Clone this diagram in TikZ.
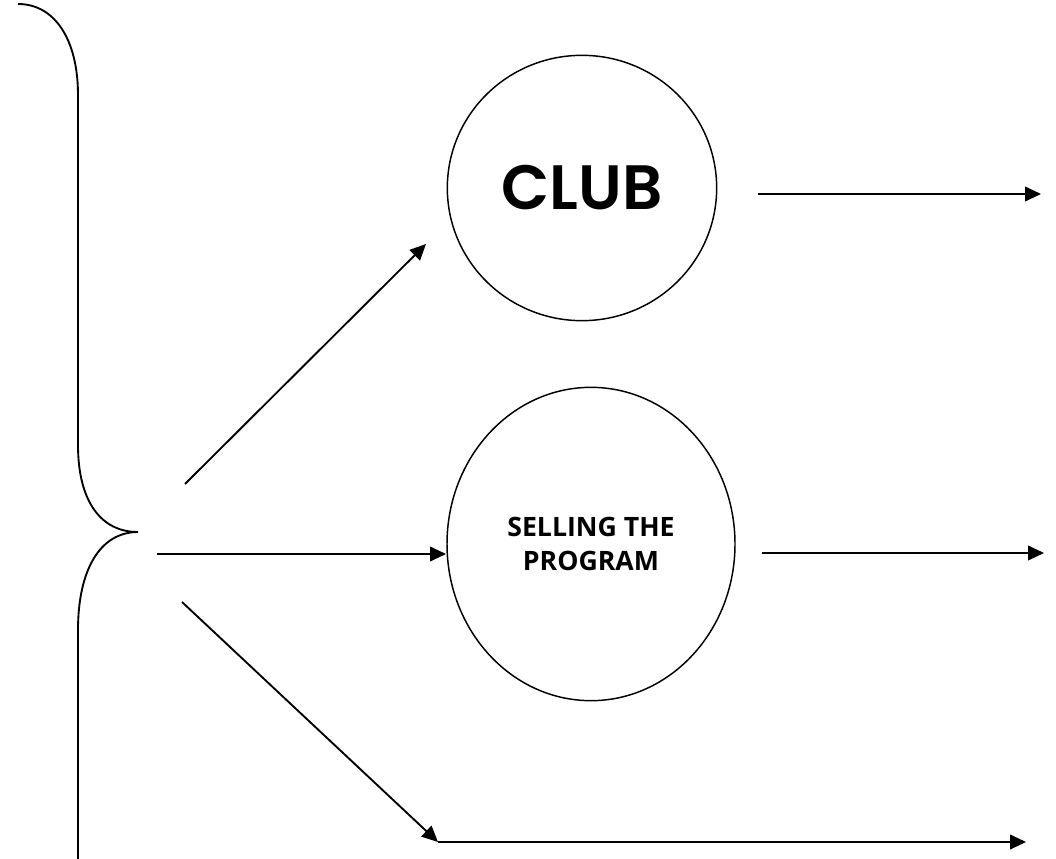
\documentclass[tikz,border=0pt]{standalone}
\usepackage{fontspec}
\usetikzlibrary{arrows.meta,shapes.geometric}
\newfontfamily\clubfont{Poppins}[UprightFont=* SemiBold]
\newfontfamily\sellfont{Open Sans}

\begin{document}
\begin{tikzpicture}[x=0.75pt, y=-0.75pt,
    bubble/.style={draw, ellipse, line width=1.1pt, inner sep=0pt},
    flow/.style={-{Triangle[length=12pt,width=11pt]}, line width=1.4pt}]
\useasboundingbox (0,0) rectangle (1056,859);
% brace on the left
\draw[line width=1.4pt] (18,4) .. controls (55,4) and (78,40) .. (78,95) -- (78,445)
    .. controls (78,500) and (100,532) .. (138,532)
    .. controls (100,532) and (78,570) .. (78,630) -- (78,859);
% the two bubbles
\node[bubble, minimum width=202pt, minimum height=199pt,
    font=\clubfont\fontsize{47}{47}\selectfont] (club) at (582,188) {CLUB};
\node[bubble, minimum width=216pt, minimum height=235pt, align=center,
    font=\sellfont\bfseries\fontsize{20}{26}\selectfont] (selling) at (591,544) {SELLING THE\\PROGRAM};
% loose ends
\coordinate (fork1) at (185,484);
\coordinate (up) at (426,244);
\coordinate (fork2) at (157,554);
\coordinate (in2) at (446,554);
\coordinate (fork3) at (182,602);
\coordinate (corner) at (438,842);
\coordinate (end3) at (1026,842);
\coordinate (out1a) at (758,194);
\coordinate (out1b) at (1041,194);
\coordinate (out2a) at (762,553);
\coordinate (out2b) at (1044,553);
% arrows
\draw[flow] (fork1) -- (up);
\draw[flow] (fork2) -- (in2);
\draw[flow] (fork3) -- (corner);
\draw[flow] (corner) -- (end3);
\draw[flow] (out1a) -- (out1b);
\draw[flow] (out2a) -- (out2b);
\end{tikzpicture}
\end{document}
